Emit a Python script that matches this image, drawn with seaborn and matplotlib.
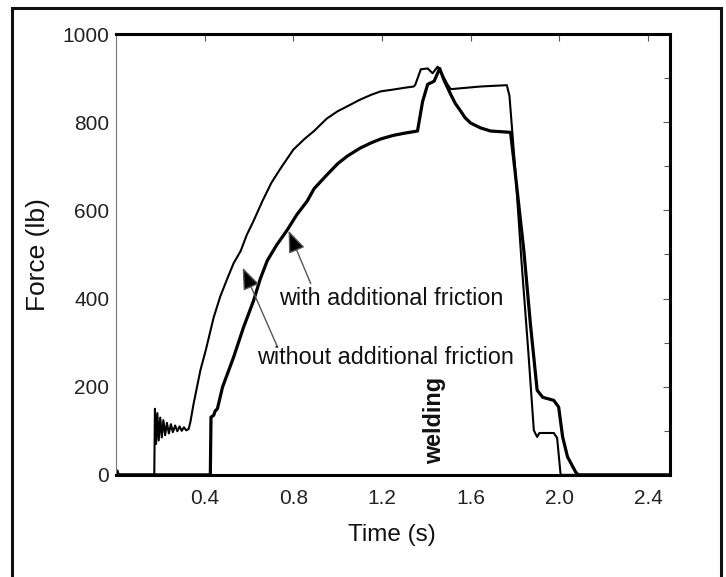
import matplotlib
matplotlib.use("Agg")
import matplotlib.pyplot as plt
import seaborn as sns
from matplotlib.patches import Rectangle
from matplotlib.ticker import MultipleLocator

# Force traces
# without additional friction (thin line, rises first)
t_without = [0.0, 0.006, 0.012, 0.172, 0.175, 0.180, 0.186, 0.192, 0.199, 0.206,
             0.213, 0.221, 0.229, 0.238, 0.247, 0.256, 0.266, 0.276, 0.286, 0.296,
             0.306, 0.316, 0.327, 0.335, 0.349, 0.38, 0.404, 0.44, 0.47, 0.503,
             0.53, 0.562, 0.59, 0.62, 0.66, 0.70, 0.743, 0.80, 0.85, 0.893,
             0.95, 1.0, 1.043, 1.10, 1.15, 1.194, 1.25, 1.30, 1.343, 1.35,
             1.375, 1.406, 1.428, 1.451, 1.475, 1.495, 1.51, 1.645, 1.763, 1.775,
             1.80, 1.83, 1.86, 1.885, 1.90, 1.91, 1.975, 1.99, 2.006, 2.5]
f_without = [0, 10, 0, 0, 150, 70, 140, 78, 130, 85,
             124, 90, 118, 94, 115, 97, 112, 99, 110, 100,
             108, 101, 104, 120, 160, 237, 282, 357, 405, 447,
             480, 508, 545, 576, 621, 662, 696, 738, 762, 780,
             808, 825, 836, 851, 862, 870, 874, 878, 881, 885,
             920, 922, 911, 926, 905, 886, 875, 881, 884, 860,
             700, 480, 280, 101, 86, 95, 95, 84, 0, 0]

# with additional friction (thick line)
t_with = [0.0, 0.425, 0.428, 0.44, 0.447, 0.457, 0.48, 0.53, 0.575, 0.62,
          0.65, 0.682, 0.725, 0.77, 0.815, 0.862, 0.893, 0.95, 1.0, 1.043,
          1.10, 1.15, 1.194, 1.25, 1.30, 1.36, 1.383, 1.406, 1.435, 1.46,
          1.48, 1.51, 1.53, 1.555, 1.575, 1.60, 1.645, 1.69, 1.78, 1.80,
          1.84, 1.87, 1.90, 1.925, 1.975, 1.997, 2.015, 2.037, 2.073, 2.085,
          2.5]
f_with = [0, 0, 131, 135, 145, 150, 199, 267, 335, 395,
          444, 486, 522, 554, 590, 621, 649, 680, 706, 723,
          741, 753, 762, 770, 775, 780, 847, 886, 893, 922,
          895, 863, 843, 825, 810, 798, 787, 780, 777, 690,
          508, 340, 192, 176, 169, 154, 86, 41, 7, 0,
          0]

x_ticks = [0.4, 0.8, 1.2, 1.6, 2.0, 2.4]
y_ticks = [0, 200, 400, 600, 800, 1000]

sns.set_style("white")
plt.rcParams['font.family'] = ['Liberation Sans', 'DejaVu Sans']

fig = plt.figure(figsize=(7.26, 5.77), dpi=100)
ax = fig.add_axes([0.160, 0.177, 0.763, 0.764])

sns.lineplot(x=t_without, y=f_without, color='black', linewidth=1.5,
             sort=False, estimator=None, ax=ax)
sns.lineplot(x=t_with, y=f_with, color='black', linewidth=2.3,
             sort=False, estimator=None, ax=ax)

ax.set_xlim(0, 2.5)
ax.set_ylim(0, 1000)
ax.set_xticks(x_ticks)
ax.set_xticklabels([f"{v:.1f}" for v in x_ticks])
ax.set_yticks(y_ticks)
ax.yaxis.set_minor_locator(MultipleLocator(100))

# frame: heavy on top/bottom/right, light on the left
for side in ['top', 'bottom', 'right']:
    ax.spines[side].set_linewidth(2.2)
    ax.spines[side].set_color('black')
ax.spines['left'].set_linewidth(0.8)
ax.spines['left'].set_color('#777777')

ax.tick_params(which='both', direction='in', top=True, right=True,
               color='#555555', width=0.8, colors='#222222')
ax.tick_params(which='major', length=5)
ax.tick_params(which='minor', length=4)
ax.tick_params(axis='x', labelsize=15, pad=10)
ax.tick_params(axis='y', labelsize=15, pad=5)

ax.set_xlabel('Time (s)', fontsize=17.5, color='#111111')
ax.set_ylabel('Force (lb)', fontsize=19, color='#111111')
ax.xaxis.set_label_coords(0.498, -0.136)
ax.xaxis.label.set_va('center')
ax.yaxis.set_label_coords(-0.141, 0.5)
ax.yaxis.label.set_va('center')

# annotations
arrow_kw = dict(arrowstyle='-|>,head_length=0.9,head_width=0.35',
                mutation_scale=15, fc='black', ec='#555555', lw=1.0,
                shrinkA=0, shrinkB=0)
ax.annotate('', xy=(0.778, 554), xytext=(0.878, 434), arrowprops=arrow_kw)
ax.annotate('', xy=(0.571, 470), xytext=(0.729, 289), arrowprops=arrow_kw)
ax.text(0.733, 400, 'with additional friction', fontsize=16.8,
        ha='left', va='center', color='#111111')
ax.text(0.638, 267, 'without additional friction', fontsize=16.8,
        ha='left', va='center', color='#111111')
ax.text(1.438, 124, 'welding', fontsize=16.8, fontweight='bold',
        rotation=90, ha='center', va='center', color='#111111')

# outer box of the scanned figure (bottom edge cut off)
fig.patches.append(Rectangle((0.0165, -0.05), 0.9766, 1.036, transform=fig.transFigure,
                             fill=False, edgecolor='#111111', linewidth=2.2,
                             clip_on=False))

fig.savefig('out.png', dpi=100, facecolor='white')
